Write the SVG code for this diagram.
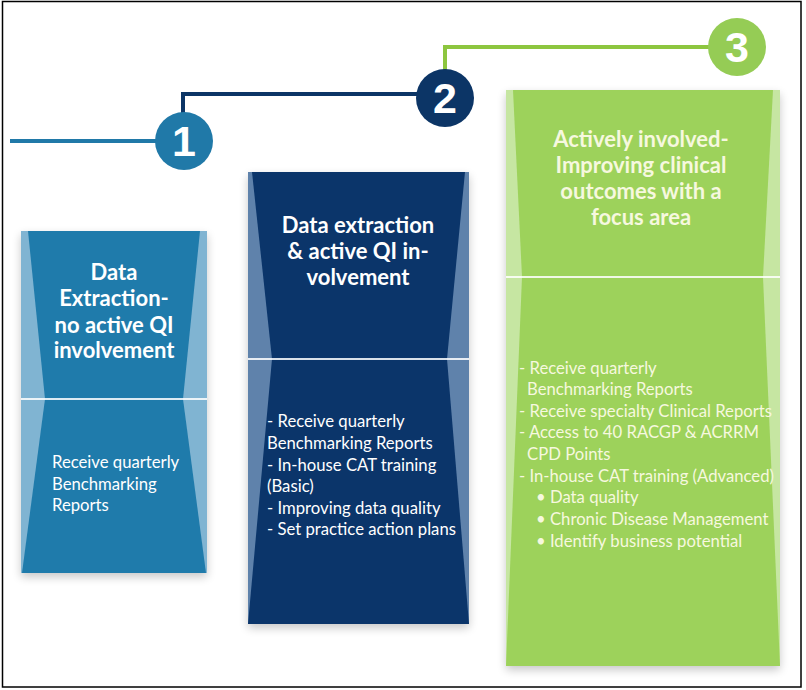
<svg xmlns="http://www.w3.org/2000/svg" width="806" height="690" viewBox="0 0 806 690">
<defs>
<filter id="sh" x="-10%" y="-10%" width="120%" height="120%">
<feGaussianBlur in="SourceAlpha" stdDeviation="5"/>
<feOffset dy="4" result="b"/>
<feComponentTransfer><feFuncA type="linear" slope="0.22"/></feComponentTransfer>
<feMerge><feMergeNode/><feMergeNode in="SourceGraphic"/></feMerge>
</filter>
</defs>
<style>
.title{font-family:Lato,"Liberation Sans",sans-serif;font-weight:bold;font-size:22px;text-anchor:middle}
.body{font-family:Lato,"Liberation Sans",sans-serif;font-size:16.7px}
.num{font-family:"Liberation Sans",Arial,sans-serif;font-weight:bold;font-size:43px;text-anchor:middle;fill:#ffffff}
.div{stroke:#ffffff;stroke-width:2;stroke-opacity:0.85}
.w1{fill:#ffffff}
.w3{fill:#f6f8df}
</style>
<rect x="0" y="0" width="806" height="690" fill="#ffffff"/>
<rect x="2.5" y="1.5" width="798.5" height="685.5" fill="none" stroke="#000000" stroke-width="1.5"/>

<g id="connectors" fill="none" stroke-width="4">
<line x1="10" y1="141" x2="160" y2="141" stroke="#2079a8"/>
<polyline points="183,115 183,94 420,94" stroke="#0c3566"/>
<polyline points="445,72 445,47 712,47" stroke="#8dc63f"/>
</g>

<g id="col1">
<g filter="url(#sh)">
<rect x="21" y="231" width="186" height="342" fill="#80b4d2"/>
</g>
<polygon points="28,231 200,231 183,399 45,399" fill="#1f7bab"/>
<polygon points="45,399 183,399 206,573 22,573" fill="#1f7bab"/>
<line x1="21" y1="399" x2="207" y2="399" class="div"/>
<text class="title w1" x="114" y="280">Data</text>
<text class="title w1" x="114" y="306">Extraction-</text>
<text class="title w1" x="114" y="333">no active QI</text>
<text class="title w1" x="114" y="358">involvement</text>
<text class="body w1" x="52" y="468">Receive quarterly</text>
<text class="body w1" x="52" y="490">Benchmarking</text>
<text class="body w1" x="52" y="511">Reports</text>
</g>

<g id="col2">
<g filter="url(#sh)">
<rect x="248" y="172" width="221" height="452" fill="#5f82ab"/>
</g>
<polygon points="252,172 465,172 447,359 272,359" fill="#0b356a"/>
<polygon points="272,359 447,359 469,624 248,624" fill="#0b356a"/>
<line x1="248" y1="359" x2="469" y2="359" class="div"/>
<text class="title w1" x="358" y="233">Data extraction</text>
<text class="title w1" x="358" y="259">&amp; active QI in-</text>
<text class="title w1" x="358" y="285">volvement</text>
<text class="body w1" x="267" y="427">- Receive quarterly</text>
<text class="body w1" x="267" y="449">Benchmarking Reports</text>
<text class="body w1" x="267" y="471">- In-house CAT training</text>
<text class="body w1" x="267" y="492">(Basic)</text>
<text class="body w1" x="267" y="514">- Improving data quality</text>
<text class="body w1" x="267" y="535">- Set practice action plans</text>
</g>

<g id="col3">
<g filter="url(#sh)">
<rect x="506" y="90" width="274" height="576" fill="#c6e6a2"/>
</g>
<polygon points="513,90 773,90 763,277 522,277" fill="#9dd25b"/>
<polygon points="522,277 763,277 780,666 506,666" fill="#9dd25b"/>
<line x1="506" y1="277" x2="780" y2="277" class="div"/>
<text class="title w3" x="641" y="147">Actively involved-</text>
<text class="title w3" x="641" y="173">Improving clinical</text>
<text class="title w3" x="641" y="199">outcomes with a</text>
<text class="title w3" x="641" y="225">focus area</text>
<text class="body w3" x="519" y="374">- Receive quarterly</text>
<text class="body w3" x="527" y="395">Benchmarking Reports</text>
<text class="body w3" x="519" y="417">- Receive specialty Clinical Reports</text>
<text class="body w3" x="519" y="438">- Access to 40 RACGP &amp; ACRRM</text>
<text class="body w3" x="527" y="460">CPD Points</text>
<text class="body w3" x="519" y="482">- In-house CAT training (Advanced)</text>
<text class="body w3" x="536" y="503">• Data quality</text>
<text class="body w3" x="536" y="525">• Chronic Disease Management</text>
<text class="body w3" x="536" y="547">• Identify business potential</text>
</g>

<g id="step1">
<circle cx="184" cy="141" r="29" fill="#2079a8"/>
<text class="num" x="184" y="156">1</text>
</g>
<g id="step2">
<circle cx="445" cy="98" r="29" fill="#0c3566"/>
<text class="num" x="445" y="113">2</text>
</g>
<g id="step3">
<circle cx="737" cy="47" r="29" fill="#95cc55"/>
<text class="num" x="737" y="62">3</text>
</g>
</svg>
